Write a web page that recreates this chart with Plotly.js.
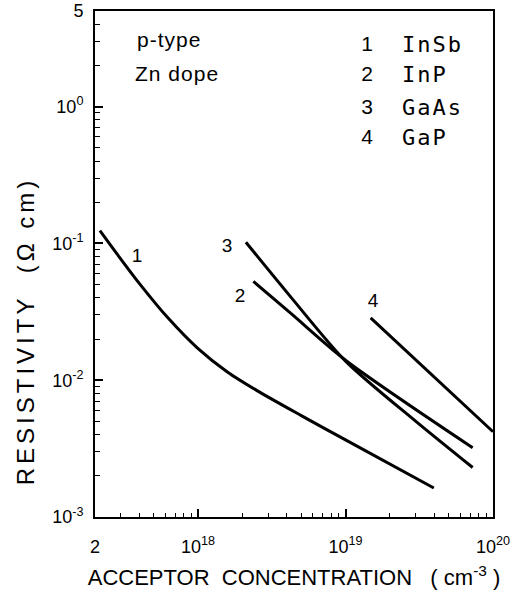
<!DOCTYPE html>
<html><head><meta charset="utf-8">
<script src="https://cdn.plot.ly/plotly-3.0.1.min.js"></script>
<style>html,body{margin:0;padding:0;background:#fff}</style>
</head><body><div id="chart" style="width:523px;height:596px"></div>
<script>
// Acceptor concentration (cm^-3) and resistivity (ohm cm)
const inSbX = [2.16e17, 2.82e17, 3.98e17, 6.31e17, 1.0e18, 1.58e18, 2.51e18, 5.01e18, 1.0e19, 3.97e19];
const inSbY = [0.124, 0.0838, 0.0513, 0.0282, 0.0170, 0.01148, 0.00839, 0.00551, 0.00366, 0.00163];
const inPX = [2.37e18, 4.3e18, 1.0e19, 7.28e19];
const inPY = [0.0528, 0.0305, 0.0140, 0.00321];
const gaAsX = [2.11e18, 4.3e18, 1.0e19, 3.0e19, 7.28e19];
const gaAsY = [0.102, 0.040, 0.0138, 0.0050, 0.0023];
const gaPX = [1.48e19, 1.0e20];
const gaPY = [0.0286, 0.0042];

const seriesNames = ['InSb', 'InP', 'GaAs', 'GaP'];
const seriesNums = ['1', '2', '3', '4'];

const xTickVals = [2e17, 1e18, 1e19, 1e20];
const xTickText = ['2', '10<sup>18</sup>', '10<sup>19</sup>', '10<sup>20</sup>'];
const yTickVals = [1e-3, 1e-2, 1e-1, 1, 5];
const yTickText = ['10<sup>-3</sup>', '10<sup>-2</sup>', '10<sup>-1</sup>', '10<sup>0</sup>', '5'];

function minorVals(lo, hi) {
  const out = [];
  for (let e = lo; e < hi; e++) for (let d = 2; d <= 9; d++) out.push(d * Math.pow(10, e));
  return out;
}

const L = 95, R = 493, T = 11, B = 517;
const X0 = Math.log10(2e17), X1 = 20, Y0 = -3, Y1 = Math.log10(5);
// pixel position -> data position (for placing text labels)
const dx = p => Math.pow(10, X0 + (p - L) / (R - L) * (X1 - X0));
const dy = p => Math.pow(10, Y1 - (p - T) / (B - T) * (Y1 - Y0));

const lineStyle = {color: '#000', width: 3, shape: 'spline', smoothing: 0.8};
const traces = [
  {x: inSbX, y: inSbY, name: seriesNames[0]},
  {x: inPX, y: inPY, name: seriesNames[1]},
  {x: gaAsX, y: gaAsY, name: seriesNames[2]},
  {x: gaPX, y: gaPY, name: seriesNames[3]}
].map(t => Object.assign(t, {type: 'scatter', mode: 'lines', line: lineStyle, hoverinfo: 'skip'}));

const fam = 'Liberation Sans, Arial, sans-serif';
const mono = 'DejaVu Sans Mono, Liberation Mono, monospace';
const spacingByTrace = {};
function textTrace(items, pos, font, ls) {
  if (ls) spacingByTrace[traces.length] = ls;
  traces.push({type: 'scatter', mode: 'text', hoverinfo: 'skip', cliponaxis: false,
    x: items.map(it => dx(it[1])), y: items.map(it => dy(it[2])), text: items.map(it => it[0]),
    textposition: pos, textfont: font});
}
const legY = [46, 76, 109, 139];
textTrace([['p-type', 137, 42], ['Zn dope', 135, 76]], 'middle right', {family: fam, size: 21, color: '#000'}, 1);
textTrace(seriesNums.map((n, i) => [n, 367, legY[i]]), 'middle center', {family: fam, size: 21, color: '#000'});
textTrace(seriesNames.map((n, i) => [n, 402, legY[i]]), 'middle right', {family: mono, size: 22, color: '#000'}, 2);
textTrace([[seriesNums[0], 137, 257], [seriesNums[1], 240, 297], [seriesNums[2], 227, 247], [seriesNums[3], 373, 302]],
  'middle center', {family: fam, size: 19, color: '#000'});

const axisCommon = {
  type: 'log', showline: true, linewidth: 2, linecolor: '#000', mirror: true,
  showgrid: false, zeroline: false, ticks: 'inside', ticklen: 8, tickwidth: 1.5, tickcolor: '#000',
  tickmode: 'array', tickfont: {family: fam, size: 18, color: '#000'}
};
const layout = {
  width: 523, height: 596,
  margin: {l: L, r: 523 - R, t: T, b: 596 - B, pad: 0},
  paper_bgcolor: '#fff', plot_bgcolor: '#fff',
  showlegend: false,
  font: {family: fam, color: '#000'},
  xaxis: Object.assign({}, axisCommon, {
    range: [X0, X1], tickvals: xTickVals, ticktext: xTickText, ticklabelstandoff: 12,
    title: {text: 'ACCEPTOR\u00a0\u00a0CONCENTRATION\u00a0\u00a0\u00a0(\u00a0cm<sup>-3</sup>\u00a0)', font: {family: fam, size: 22, color: '#000'}, standoff: 14},
    minor: {tickmode: 'array', tickvals: minorVals(17, 20).filter(v => v > 2e17), ticks: 'inside', ticklen: 4, tickwidth: 1.2, tickcolor: '#000', showgrid: false}
  }),
  yaxis: Object.assign({}, axisCommon, {
    range: [Y0, Y1], tickvals: yTickVals, ticktext: yTickText, ticklabelstandoff: 6,
    title: {text: 'RESISTIVITY\u00a0\u00a0(\u03a9\u00a0cm)', font: {family: fam, size: 24, color: '#000'}, standoff: 14},
    minor: {tickmode: 'array', tickvals: minorVals(-3, 1).filter(v => v < 5), ticks: 'inside', ticklen: 5, tickwidth: 1.2, tickcolor: '#000', showgrid: false}
  })
};
Plotly.newPlot('chart', traces, layout, {displayModeBar: false}).then(gd => {
  const yt = gd.querySelector('text.ytitle');
  if (yt) {
    yt.style.letterSpacing = '4px';
    const g = yt.parentNode;
    g.setAttribute('transform', 'translate(' + (34 - +yt.getAttribute('x')) + ',' + (331 - +yt.getAttribute('y')) + ')');
  }
  const layers = gd.querySelectorAll('.scatterlayer .trace');
  Object.keys(spacingByTrace).forEach(i => {
    const tr = layers[+i];
    if (tr) tr.querySelectorAll('text').forEach(t => { t.style.letterSpacing = spacingByTrace[i] + 'px'; });
  });
});
</script></body></html>
